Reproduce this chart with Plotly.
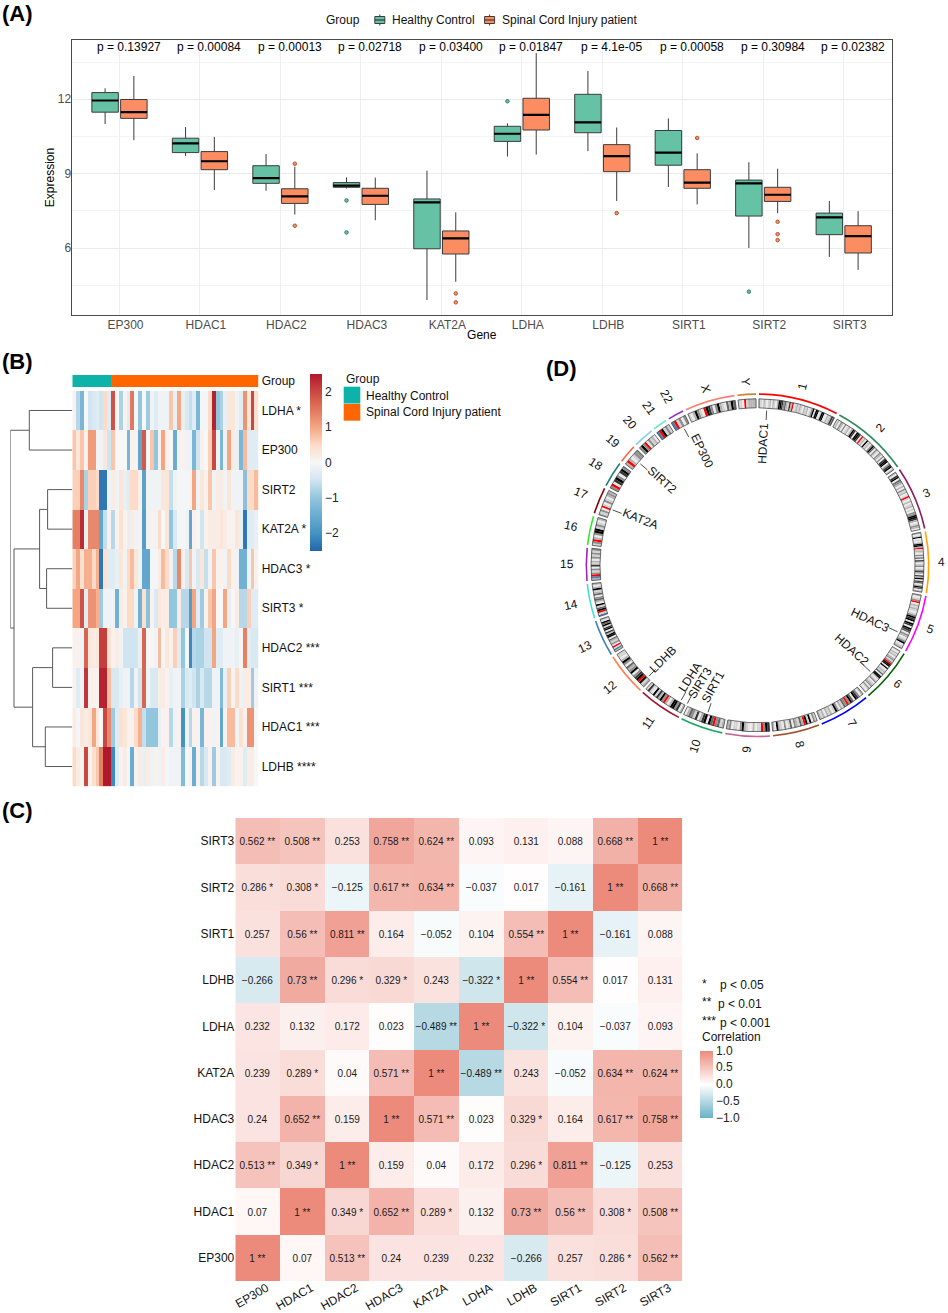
import math
import plotly.graph_objects as go

W, H = 948, 1313
FONT = "Liberation Sans"

# ---- panel A data
genes = ["EP300", "HDAC1", "HDAC2", "HDAC3", "KAT2A", "LDHA", "LDHB", "SIRT1", "SIRT2", "SIRT3"]
p_values = ["0.13927", "0.00084", "0.00013", "0.02718", "0.03400", "0.01847", "4.1e-05", "0.00058", "0.30984", "0.02382"]

hc_low = [11.0, 9.71, 8.31, 8.40, 3.90, 9.69, 9.91, 8.46, 6.0, 5.64]
hc_q1 = [11.48, 9.85, 8.61, 8.45, 5.97, 10.30, 10.65, 9.34, 7.29, 6.54]
hc_med = [11.95, 10.22, 8.82, 8.52, 7.84, 10.61, 11.07, 9.85, 8.61, 7.24]
hc_q3 = [12.27, 10.43, 9.32, 8.64, 7.98, 10.91, 12.20, 10.74, 8.74, 7.41]
hc_high = [12.44, 10.88, 9.79, 8.85, 9.12, 11.03, 13.14, 11.23, 9.46, 7.90]
hc_out = [[], [], [], [7.92, 6.63], [], [11.92], [], [], [4.24], []]

sci_low = [10.35, 8.34, 7.35, 7.12, 4.64, 9.77, 7.90, 7.76, 7.41, 5.12]
sci_q1 = [11.23, 9.16, 7.80, 7.76, 5.76, 10.76, 9.08, 8.41, 7.88, 5.80]
sci_med = [11.48, 9.50, 8.08, 8.11, 6.39, 11.37, 9.71, 8.64, 8.15, 6.48]
sci_q3 = [11.99, 9.89, 8.39, 8.41, 6.69, 12.04, 10.17, 9.16, 8.45, 6.90]
sci_high = [12.94, 10.48, 9.28, 8.84, 7.44, 13.86, 10.86, 9.82, 9.20, 7.49]
sci_out = [[], [], [9.40, 6.90], [], [4.17, 3.81], [], [7.41], [10.44], [7.06, 6.56, 6.32], []]

# ---- panel B data
heat_rows = ["LDHA", "EP300", "SIRT2", "KAT2A", "HDAC3", "SIRT3", "HDAC2", "SIRT1", "HDAC1", "LDHB"]
heat_labels = ["LDHA *", "EP300", "SIRT2", "KAT2A *", "HDAC3 *", "SIRT3 *", "HDAC2 ***", "SIRT1 ***", "HDAC1 ***", "LDHB ****"]
n_healthy = 10
n_patient = 38
ldha = [0.1, -0.7, -1.3, 0.0, -0.5, -0.4, -0.3, -0.5, 0.5, -0.3, 1.9, 0.0, -0.8, 0.1, -0.3, 1.5, 0.0, -1.0, 0.0, -0.9, -0.1, -0.3, -0.1, -0.1, -0.1, 0.7, -0.2, 1.0, -0.2, -0.4, -0.6, -0.3, -1.3, -0.05, -0.05, 0.5, 2.4, -1.0, -0.8, -0.2, 0.3, 0.3, -0.1, -0.3, 1.2, 0.3, 2.0, 0.4]
ep300 = [0.7, 0.3, 0.7, 0.1, 1.1, 1.1, -0.1, -0.1, 0.3, -0.5, 0.7, 0, 0, 0, -1.3, 0.1, 0.1, -1.6, 1.8, 0, 0.7, -1, 0.1, 1, 0.1, 0, -1.5, 0.1, 0.1, -0.1, -0.1, -1.3, -0.5, 0.1, 0, 0.6, 2.0, -0.1, -1.3, -0.1, 1.0, 0.2, -0.2, -1.3, 0.8, -0.3, -0.3, -0.3]
sirt2 = [0.6, 0.6, 1.3, -0.8, 0.6, 0.6, 0.5, -2.3, -2.3, -0.1, 0.2, -0.1, 0.3, -0.2, -0.3, 0.5, 0.5, 0.1, -1.7, -0.1, -0.1, -0.1, -0.1, 0.3, 0.3, -0.6, -0.1, -0.05, -0.05, -0.05, 0.1, 1.0, -0.1, 0.3, 0.1, 0.7, -0.1, 0.2, 0.2, -0.1, 0.3, -0.1, -0.1, -0.1, -1.1, 0.5, 0.5, 0.8]
kat2a = [1.4, 1.4, 2.3, -0.2, 1.3, 1.3, 1.3, -1.6, -0.6, 0.1, -0.7, 0.1, 0.4, 0.1, -0.2, 0.2, -0.1, 0.1, -1.8, -0.1, 0.1, -0.1, 0.5, 0, 0.3, -1.0, -0.4, -0.05, -0.05, -0.1, -1.6, 0.1, 0.05, -0.5, 0.1, 0.2, 0.2, 0.2, 0.3, 0.2, 0.1, 0.1, 0.3, -0.2, -2.3, -0.3, -0.3, -0.2]
hdac3 = [0.6, 1, 0.4, 0.9, 0.9, 0.5, 0.9, -2.3, 0.4, -0.3, -0.3, -0.2, 0.3, -0.1, 0.5, 0.8, 0.3, -0.1, -1.6, -1.6, -0.05, -0.05, 0.2, 0.8, 0.5, -0.1, -0.7, 1.3, 0.1, -0.4, 0.7, -0.1, -0.4, 0.3, -0.6, -0.1, 0.7, 0.1, 0.1, -0.1, 0.5, 0.1, -0.1, -1.4, -1.4, -0.1, 0.7, 0.1]
sirt3 = [1.0, 1.0, 1.9, -0.3, 1.2, 1.2, 0.9, -0.9, -0.1, -0.1, -0.1, -1.4, 0.2, 0.1, 0.5, 0.5, -0.1, -1.4, 0.4, -1.1, 0.1, -0.4, 0.3, 0.2, 0.2, -1.0, -1.0, 0.2, -0.7, -0.7, -1.8, 1.0, -0.3, -0.9, 0.1, 0.7, 1.0, 0, 0, 1.0, -0.2, 0, 0.2, -0.7, -0.7, 0.6, -0.3, -0.3]
hdac2 = [0.1, 0.1, -0.1, 1.7, 0.3, 0.2, 0.3, 2.1, 2.1, 0.4, 0.1, 0.2, -0.1, -0.5, -0.5, -0.5, -0.5, -0.2, 1.7, -0.05, 0.05, -0.1, 0.8, -0.05, 0.3, 0.1, 0.6, -0.3, -1.0, -0.05, -2.1, -0.7, -0.8, -0.8, -0.5, -0.5, 1.0, -0.3, -0.3, -0.1, -0.1, -0.1, -0.2, 0.05, 1.4, -0.3, -0.4, -0.4]
sirt1 = [0.1, -0.3, -0.1, 2.2, 0.1, 0.1, 0.1, 2.4, 2.4, 0.8, -0.4, -0.4, -0.2, -0.1, -0.1, -0.7, -0.1, -0.5, 1.7, -0.1, -0.4, -0.4, 0.2, 0.2, 0.1, -0.2, -0.1, -0.1, -0.8, -0.4, -0.3, -0.5, -0.8, -0.4, -0.7, -0.7, -0.1, -0.1, -1.2, -0.2, 0.6, 0.05, 0.5, -0.1, 0.2, 0.2, -0.9, -0.1]
hdac1 = [0.2, -0.05, 0.3, 0.2, 0.3, 1, 0.3, 0, 2, 1.3, -0.9, -0.3, 0.4, 0.3, 0.1, 0.1, 0.5, 0.9, -0.6, -1, -1, -1, -0.2, 0.1, 0.1, -0.7, -0.1, 0.1, -2, -0.1, -0.7, 0.1, 0.1, -1.3, 0.1, 0.1, -0.1, 0.1, -1.6, 0.1, 0.8, 0.8, -0.1, 0.4, 0.1, 1.2, 1.2, 0]
ldhb = [0.5, 0.2, 0.1, 2, 0.1, 0.4, 0.7, 1.4, 2.5, 2.5, -2.1, -0.3, 0.1, 0.2, -0.05, -1.5, 0.1, 0.2, -0.2, 0.2, -0.1, 0.1, -0.1, 0.2, -0.05, -0.1, -0.1, -0.1, -1.2, 0, 0.1, -1.5, 0.1, -0.7, -0.4, 0.1, -0.9, 0.1, -0.4, -0.4, -0.3, 0.2, 0.1, 0.1, -0.3, 0.2, 0.2, 0]
# dendrogram merges: (node a, node b, height), new nodes are numbered from 10
dendro_merges = [(0, 1, 43), (2, 3, 24.7), (4, 5, 25.7), (11, 12, 32.7), (6, 7, 19.7), (8, 9, 27), (14, 15, 39.7), (13, 16, 58.3), (10, 17, 62)]

# ---- panel C data
corr_genes = genes
corr_ep300 = [1, 0.07, 0.513, 0.24, 0.239, 0.232, -0.266, 0.257, 0.286, 0.562]
corr_hdac1 = [0.07, 1, 0.349, 0.652, 0.289, 0.132, 0.73, 0.56, 0.308, 0.508]
corr_hdac2 = [0.513, 0.349, 1, 0.159, 0.04, 0.172, 0.296, 0.811, -0.125, 0.253]
corr_hdac3 = [0.24, 0.652, 0.159, 1, 0.571, 0.023, 0.329, 0.164, 0.617, 0.758]
corr_kat2a = [0.239, 0.289, 0.04, 0.571, 1, -0.489, 0.243, -0.052, 0.634, 0.624]
corr_ldha = [0.232, 0.132, 0.172, 0.023, -0.489, 1, -0.322, 0.104, -0.037, 0.093]
corr_ldhb = [-0.266, 0.73, 0.296, 0.329, 0.243, -0.322, 1, 0.554, 0.017, 0.131]
corr_sirt1 = [0.257, 0.56, 0.811, 0.164, -0.052, 0.104, 0.554, 1, -0.161, 0.088]
corr_sirt2 = [0.286, 0.308, -0.125, 0.617, 0.634, -0.037, 0.017, -0.161, 1, 0.668]
corr_sirt3 = [0.562, 0.508, 0.253, 0.758, 0.624, 0.093, 0.131, 0.088, 0.668, 1]
stars_ep300 = [2, 0, 2, 0, 0, 0, 0, 0, 1, 2]
stars_hdac1 = [0, 2, 1, 2, 1, 0, 2, 2, 1, 2]
stars_hdac2 = [2, 1, 2, 0, 0, 0, 1, 2, 0, 0]
stars_hdac3 = [0, 2, 0, 2, 2, 0, 1, 0, 2, 2]
stars_kat2a = [0, 1, 0, 2, 2, 2, 0, 0, 2, 2]
stars_ldha = [0, 0, 0, 0, 2, 2, 1, 0, 0, 0]
stars_ldhb = [0, 2, 1, 1, 0, 1, 2, 2, 0, 0]
stars_sirt1 = [0, 2, 2, 0, 0, 0, 2, 2, 0, 0]
stars_sirt2 = [1, 1, 0, 2, 2, 0, 0, 0, 2, 2]
stars_sirt3 = [2, 2, 0, 2, 2, 0, 0, 0, 2, 2]

# ---- panel D data
chrom_names = [str(i) for i in range(1, 23)] + ["X", "Y"]
chrom_mb = [248, 242, 198, 190, 181, 170, 159, 145, 138, 133, 135, 133, 114, 107, 102, 90, 83, 80, 58, 64, 46, 50, 156, 57]
chrom_colors = ["#FF0000", "#2E8B57", "#8B1C62", "#FFA500", "#FF00FF", "#006400", "#0000FF", "#A0522D", "#CD6090", "#1EA95F", "#A01830", "#FF7F50",
                "#3F7FB5", "#40E0D0", "#A020C0", "#32E632", "#8B0000", "#1B7F7F", "#FF6347", "#87CEEB", "#66E6C0", "#9A32CD", "#FA8072", "#CD7F32"]
# cytoband look, one character per equal slice of a chromosome: 0-6 grey level, r centromere, b stalk
chrom_bands = [
    "2102101202102665342152r0121210212013606601660021254",
    "1203203012026506650r1206120364031032030566035602",
    "2056043202031201r10201201033665201320",
    "20160102662r1210314061023013520526054026402",
    "2013r0212101365606506540320136012",
    "1021202313r6606012140662013012303101",
    "203560463r3412036102120212",
    "130616r2412304103012602",
    "563r1102001263011032",
    "2143r4606520513420",
    "205366202r3625160151",
    "216r653063240362011",
    "2b1r0312406625065164602",
    "b1r6416024304216202",
    "2br3130512031313",
    "13r2036613102",
    "2130r10310232",
    "3r05630563",
    "2r20133",
    "363r03120",
    "br6131",
    "br1303",
    "1026310r6530362104264",
    "110r12222",
]
band_grey = {"0": "#EAEAEA", "1": "#D2D2D2", "2": "#B4B4B4", "3": "#8E8E8E", "4": "#666666", "5": "#363636", "6": "#000000", "r": "#FF0000", "b": "#4682B4"}
gene_names = ["HDAC1", "HDAC3", "HDAC2", "SIRT1", "SIRT3", "LDHA", "LDHB", "KAT2A", "SIRT2", "EP300"]
gene_theta = [3.4, 115.4, 133.3, 198.6, 206.9, 209.5, 224.4, 290.9, 310.9, 331.8]
gene_label_theta = [2.8, 115.7, 132, 200.1, 206, 211.1, 225, 291.8, 311.7, 334.2]
gene_label_r = [122, 125, 127, 129.6, 131, 130.5, 133, 126, 128, 127]
gene_label_angle = [-87, 25.7, 42, -61, -58, -57, -45, 21.8, 41.7, 64.2]


def fx(px):
    return px / W


def fy(py):
    return 1 - py / H


fig = go.Figure()

# ---- A: boxplots
GREEN, ORANGE = "#66C2A5", "#FC8D62"
GREEN_DK, ORANGE_DK = "#2F7F68", "#B5532F"
positions = list(range(len(genes)))
for name, group, fill, dark, low, q1, med, q3, high, out in [
    ("Healthy Control", "hc", GREEN, GREEN_DK, hc_low, hc_q1, hc_med, hc_q3, hc_high, hc_out),
    ("Spinal Cord Injury patient", "sci", ORANGE, ORANGE_DK, sci_low, sci_q1, sci_med, sci_q3, sci_high, sci_out),
]:
    # the samples only carry the outliers, a box without any gets its median so no list is empty
    samples = [pts if pts else [m] for pts, m in zip(out, med)]
    fig.add_trace(go.Box(
        x=positions, y=samples, q1=q1, median=med, q3=q3, lowerfence=low, upperfence=high,
        orientation="v", name=name, offsetgroup=group, alignmentgroup="a", fillcolor=fill,
        line=dict(color="#3c3c3c", width=1), whiskerwidth=0,
        marker=dict(color=fill, size=3.5, line=dict(color=dark, width=1)),
        boxpoints="outliers", jitter=0, pointpos=0, xaxis="x", yaxis="y", showlegend=False,
    ))
    # thick median bar on top of the box
    fig.add_trace(go.Box(
        x=positions, q1=med, median=med, q3=med, lowerfence=med, upperfence=med,
        orientation="v", offsetgroup=group, alignmentgroup="a", fillcolor="rgba(0,0,0,0)",
        line=dict(color="black", width=2.2), whiskerwidth=0, boxpoints=False,
        showlegend=False, hoverinfo="skip", xaxis="x", yaxis="y",
    ))

# ---- B: heatmap, annotation bar, dendrogram
heat_z = [ldha, ep300, sirt2, kat2a, hdac3, sirt3, hdac2, sirt1, hdac1, ldhb]
rdbu = [[0, "#2166AC"], [0.1, "#4393C3"], [0.3, "#92C5DE"], [0.4, "#D1E5F0"], [0.5, "#F7F7F7"], [0.6, "#FDDBC7"], [0.7, "#F4A582"], [0.85, "#D6604D"], [1, "#B2182B"]]
fig.add_trace(go.Heatmap(
    z=heat_z, x=list(range(n_healthy + n_patient)), y=list(range(len(heat_rows))),
    zmin=-2.5, zmax=2.5, colorscale=rdbu, xaxis="x2", yaxis="y2",
    colorbar=dict(
        x=fx(309.7), xanchor="left", y=fy(462.3), yanchor="middle", lenmode="pixels", len=177,
        thickness=12, xpad=0, ypad=0, outlinewidth=0, tickvals=[-2, -1, 0, 1, 2], ticks="",
        tickfont=dict(size=12, family=FONT, color="#222"),
    ),
))
fig.add_trace(go.Heatmap(
    z=[[0] * n_healthy + [1] * n_patient], x=list(range(n_healthy + n_patient)), y=[0],
    zmin=0, zmax=1, colorscale=[[0, "#0DB3A8"], [1, "#FF6600"]], showscale=False, xaxis="x3", yaxis="y3",
))
node_pos = {i: float(i) for i in range(len(heat_rows))}
node_h = {i: 0.0 for i in range(len(heat_rows))}
dx, dy = [], []
for k, (a, b, h) in enumerate(dendro_merges):
    dx += [node_h[a], h, h, node_h[b], None]
    dy += [node_pos[a], node_pos[a], node_pos[b], node_pos[b], None]
    node_pos[10 + k] = (node_pos[a] + node_pos[b]) / 2
    node_h[10 + k] = h
fig.add_trace(go.Scatter(x=dx, y=dy, mode="lines", line=dict(color="#5a5a5a", width=1), showlegend=False,
                         cliponaxis=False, xaxis="x4", yaxis="y4", hoverinfo="skip"))

# ---- C: correlation heatmap
corr_z = [corr_ep300, corr_hdac1, corr_hdac2, corr_hdac3, corr_kat2a, corr_ldha, corr_ldhb, corr_sirt1, corr_sirt2, corr_sirt3]
stars_z = [stars_ep300, stars_hdac1, stars_hdac2, stars_hdac3, stars_kat2a, stars_ldha, stars_ldhb, stars_sirt1, stars_sirt2, stars_sirt3]
corr_text = []
for vals, marks in zip(corr_z, stars_z):
    row = []
    for v, m in zip(vals, marks):
        row.append((str(v).replace("-", "\u2212") + " " + "*" * m).strip())
    corr_text.append(row)
fig.add_trace(go.Heatmap(
    z=corr_z, x=corr_genes, y=corr_genes, text=corr_text, texttemplate="%{text}",
    textfont=dict(size=10, family=FONT, color="#1a1a1a"),
    zmin=-1, zmax=1, colorscale=[[0, "#6AB1C8"], [0.5, "#FFFFFF"], [1, "#EC8A7C"]],
    xaxis="x5", yaxis="y5",
    colorbar=dict(
        x=fx(700), xanchor="left", y=fy(1084), yanchor="middle", lenmode="pixels", len=67,
        thickness=13, xpad=0, ypad=0, outlinewidth=0, tickvals=[-1, -0.5, 0, 0.5, 1], tickformat=".1f", ticks="",
        tickfont=dict(size=12, family=FONT, color="#222"),
    ),
))

# ---- D: circular ideogram
CX, CY = 757.5, 565.3
POLAR_R = 180
GAP = 1.0
deg_per_mb = (360 - GAP * len(chrom_mb)) / sum(chrom_mb)
starts, spans = [], []
cursor = 0.5
for mb in chrom_mb:
    starts.append(cursor)
    spans.append(mb * deg_per_mb)
    cursor += mb * deg_per_mb + GAP

band_theta, band_width, band_color = [], [], []
for start, span, bands in zip(starts, spans, chrom_bands):
    slice_w = span / len(bands)
    for i, ch in enumerate(bands):
        band_theta.append(start + slice_w * (i + 0.5))
        band_width.append(slice_w)
        band_color.append(band_grey[ch])
mids = [s + sp / 2 for s, sp in zip(starts, spans)]
fig.add_trace(go.Barpolar(
    r=[9] * len(band_theta), base=[157.5] * len(band_theta), theta=band_theta, width=band_width,
    marker=dict(color=band_color, line=dict(width=0)), showlegend=False, hoverinfo="skip", subplot="polar",
))
fig.add_trace(go.Barpolar(
    r=[9] * len(mids), base=[157.5] * len(mids), theta=mids, width=spans,
    marker=dict(color="rgba(0,0,0,0)", line=dict(color="#333333", width=0.7)), showlegend=False, hoverinfo="skip", subplot="polar",
))
fig.add_trace(go.Barpolar(
    r=[1.6] * len(mids), base=[170.4] * len(mids), theta=mids, width=spans,
    marker=dict(color=chrom_colors, line=dict(width=0)), showlegend=False, hoverinfo="skip", subplot="polar",
))
lead_r, lead_t = [], []
for t in gene_theta:
    lead_r += [145.5, 155, None]
    lead_t += [t, t, None]
fig.add_trace(go.Scatterpolar(r=lead_r, theta=lead_t, mode="lines", line=dict(color="#222", width=0.8),
                              showlegend=False, hoverinfo="skip", subplot="polar"))

annotations = []


def polar_note(text, theta, r, size, angle=None):
    if angle is None:
        angle = theta - 90 if theta < 180 else theta - 270
    annotations.append(dict(
        text=text, xref="paper", yref="paper", showarrow=False, textangle=angle,
        x=fx(CX + r * math.sin(math.radians(theta))), y=fy(CY - r * math.cos(math.radians(theta))),
        xanchor="center", yanchor="middle", font=dict(size=size, family=FONT, color="#111"),
    ))


def page_note(text, px, py, size=12, anchor="left", **font):
    annotations.append(dict(
        text=text, xref="paper", yref="paper", showarrow=False, x=fx(px), y=fy(py),
        xanchor=anchor, yanchor="middle", font=dict(size=size, family=FONT, color=font.get("color", "#111")),
    ))


for name, mid in zip(chrom_names, mids):
    polar_note(name, mid, 184 if len(name) == 1 else 191, 12)
for name, t, r, ang in zip(gene_names, gene_label_theta, gene_label_r, gene_label_angle):
    polar_note(name, t, r, 12, ang)

# panel letters
page_note("<b>(A)</b>", 0, 14, 22, color="black")
page_note("<b>(B)</b>", 0, 361, 22, color="black")
page_note("<b>(C)</b>", 0, 810, 22, color="black")
page_note("<b>(D)</b>", 544, 368, 22, color="black")

# p values above the boxes
for i, p in enumerate(p_values):
    annotations.append(dict(
        text="p = " + p, x=i, xref="x", y=fy(47.5), yref="paper", xshift=9.5, showarrow=False,
        xanchor="center", yanchor="middle", font=dict(size=12, family=FONT, color="black"),
    ))

# group legends drawn by hand: text as notes, keys as shapes
page_note("Group", 323.5, 20)
page_note("Healthy Control", 389.5, 20)
page_note("Spinal Cord Injury patient", 500, 20)
page_note("Group", 343.5, 378.5)
page_note("Healthy Control", 364, 395.5)
page_note("Spinal Cord Injury patient", 364, 412.5)
shapes = [
    dict(type="rect", xref="paper", yref="paper", x0=fx(343.7), x1=fx(360.3), y0=fy(386.7), y1=fy(403.5), fillcolor="#0DB3A8", line=dict(width=0)),
    dict(type="rect", xref="paper", yref="paper", x0=fx(343.7), x1=fx(360.3), y0=fy(403.9), y1=fy(420.7), fillcolor="#FF6600", line=dict(width=0)),
]
for left, fill in [(374.8, GREEN), (484.6, ORANGE)]:
    shapes += [
        dict(type="line", xref="paper", yref="paper", x0=fx(left + 5), x1=fx(left + 5), y0=fy(14.5), y1=fy(25.5), line=dict(color="#333", width=1)),
        dict(type="rect", xref="paper", yref="paper", x0=fx(left), x1=fx(left + 10), y0=fy(16.5), y1=fy(23.5), fillcolor=fill, line=dict(color="#3c3c3c", width=1)),
        dict(type="line", xref="paper", yref="paper", x0=fx(left), x1=fx(left + 10), y0=fy(20), y1=fy(20), line=dict(color="#222", width=1)),
    ]

# significance key of panel C
page_note("*", 700, 984)
page_note("p < 0.05", 718, 985)
page_note("**", 700, 1002)
page_note("p < 0.01", 716, 1003.5)
page_note("***", 700, 1021)
page_note("p < 0.001", 717.5, 1022.5)
page_note("Correlation", 700, 1037)

plain = dict(showgrid=False, zeroline=False, showline=False, ticks="")
tick12 = dict(size=12, family=FONT, color="#111")
fig.update_layout(
    width=W, height=H, margin=dict(l=0, r=0, t=0, b=0, autoexpand=False), autosize=False,
    paper_bgcolor="white", plot_bgcolor="white", font=dict(family=FONT, size=12, color="#111"),
    boxmode="group", boxgap=0.285, boxgroupgap=0.08, showlegend=False,
    annotations=annotations, shapes=shapes,
    xaxis=dict(
        domain=[fx(71.6), fx(892)], range=[-0.595, 9.6], tickvals=positions, ticktext=genes, ticks="", ticklabelshift=6, ticklabelstandoff=-2,
        tickfont=dict(size=12, family=FONT, color="#4D4D4D"), showgrid=True, gridcolor="#EFEFEF", gridwidth=0.8, zeroline=False,
        showline=True, mirror=True, linecolor="#4a4a4a", linewidth=1.2, anchor="y",
        title=dict(text="Gene", standoff=0, font=dict(size=12, family=FONT, color="black")),
    ),
    yaxis=dict(
        domain=[fy(315), fy(40)], range=[3.3, 14.39], tickvals=[6, 9, 12], ticks="", anchor="x", ticklabelstandoff=-3,
        tickfont=dict(size=12, family=FONT, color="#4D4D4D"), showgrid=True, gridcolor="#EBEBEB", gridwidth=1, zeroline=False,
        minor=dict(tickvals=[4.5, 7.5, 10.5, 13.5], showgrid=True, gridcolor="#F3F3F3", gridwidth=0.8, ticks=""),
        showline=True, mirror=True, linecolor="#4a4a4a", linewidth=1.2,
        title=dict(text="Expression", standoff=0, font=dict(size=12, family=FONT, color="black")),
    ),
    xaxis2=dict(domain=[fx(72.3), fx(258.7)], range=[-0.5, 47.5], showticklabels=False, anchor="y2", **plain),
    yaxis2=dict(domain=[fy(786.3), fy(390.7)], range=[9.5, -0.5], side="right", anchor="x2", tickvals=list(range(10)),
                ticktext=heat_labels, tickfont=tick12, ticklabelstandoff=2, **plain),
    xaxis3=dict(domain=[fx(72.3), fx(258.7)], range=[-0.5, 47.5], showticklabels=False, anchor="y3", **plain),
    yaxis3=dict(domain=[fy(387.3), fy(375)], range=[-0.5, 0.5], side="right", anchor="x3", tickvals=[0], ticktext=["Group"],
                tickfont=tick12, ticklabelstandoff=2, **plain),
    xaxis4=dict(domain=[fx(10.3), fx(72.3)], range=[62, 0], showticklabels=False, anchor="y4", **plain),
    yaxis4=dict(domain=[fy(786.3), fy(390.7)], range=[9.5, -0.5], showticklabels=False, anchor="x4", **plain),
    xaxis5=dict(domain=[fx(235.3), fx(682.3)], anchor="y5", tickangle=-30, ticklabelshift=9, ticklabelstandoff=-3, tickfont=tick12, **plain),
    yaxis5=dict(domain=[fy(1281), fy(818)], anchor="x5", tickfont=tick12, **plain),
    polar=dict(
        domain=dict(x=[fx(CX - POLAR_R), fx(CX + POLAR_R)], y=[fy(CY + POLAR_R), fy(CY - POLAR_R)]),
        radialaxis=dict(visible=False, range=[0, POLAR_R]),
        angularaxis=dict(visible=False, direction="clockwise", rotation=90),
        barmode="overlay", bgcolor="rgba(0,0,0,0)",
    ),
)

fig.write_html("out.html", config=dict(displayModeBar=False), post_script="document.body.style.margin='0';")
